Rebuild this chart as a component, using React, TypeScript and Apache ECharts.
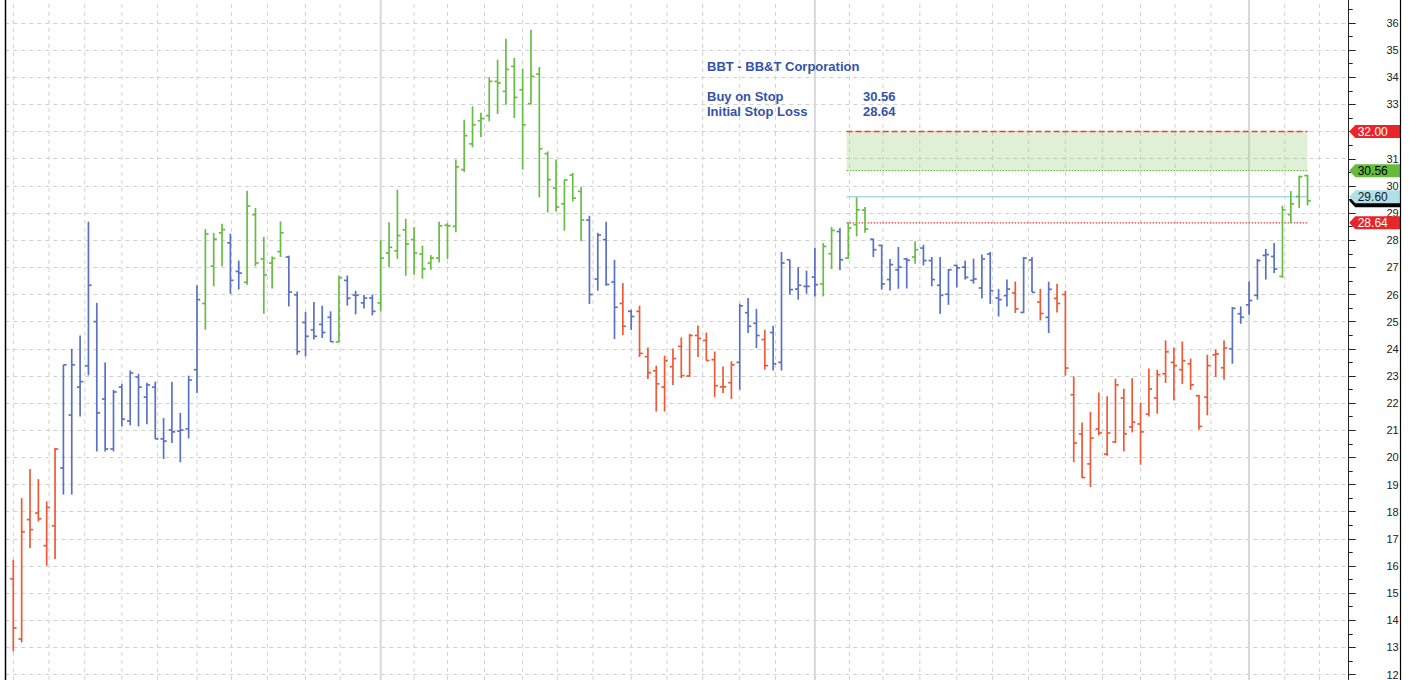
import React, { useEffect, useRef } from "react";
import * as echarts from "echarts";

// Weekly OHLC bars, first week starting 2009-03-02
const FIRST_WEEK_UTC = Date.UTC(2009, 2, 2);

const OPEN = [
  15.53, 13.31, 17.71, 17.95, 16.75, 17.48, 19.61, 21.56, 22.59, 23.37,
  25.0, 22.15, 20.31, 22.59, 21.34, 22.96, 22.22, 22.59, 20.68, 21.01,
  20.97, 21.05, 23.23, 25.67, 27.04, 28.27, 27.9, 26.85, 26.45, 28.94,
  27.31, 27.16, 27.58, 27.38, 25.99, 24.97, 24.7, 24.9, 25.16, 24.25,
  26.52, 25.98, 25.69, 25.87, 25.69, 27.53, 27.61, 28.38, 28.02, 27.49,
  27.16, 27.34, 28.55, 28.51, 30.6, 31.55, 32.4, 32.59, 33.85, 33.48,
  34.4, 33.54, 33.03, 34.12, 31.19, 29.92, 29.34, 30.4, 29.8, 28.74,
  26.57, 28.02, 26.46, 25.67, 25.38, 25.38, 23.71, 23.19, 22.59, 23.34,
  24.09, 23.0, 24.49, 24.31, 23.6, 22.6, 22.75, 23.5, 25.33, 24.94,
  24.34, 24.6, 23.5, 27.28, 26.2, 26.3, 26.64, 26.39, 27.5, 28.32,
  27.34, 28.57, 29.11, 28.04, 27.81, 26.55, 26.91, 27.31, 27.38, 27.71,
  27.25, 26.34, 26.01, 27.07, 27.01, 26.52, 26.24, 27.49, 25.87, 25.96,
  26.06, 25.34, 27.27, 25.72, 25.16, 25.86, 26.0, 22.31, 20.86, 19.76,
  21.05, 20.12, 20.57, 22.19, 21.12, 21.23, 21.6, 22.19, 23.08, 23.5,
  23.23, 23.45, 22.27, 22.22, 23.78, 23.3, 24.0, 25.29, 25.62, 25.97,
  27.44, 27.4, 26.67, 28.94, 29.61, 30.38,
];
const HIGH = [
  16.23, 18.5, 19.57, 19.2, 18.38, 20.35, 23.41, 24.0, 24.49, 28.68,
  25.69, 23.5, 22.49, 22.71, 23.2, 23.08, 22.75, 22.79, 21.45, 22.79,
  21.64, 23.01, 26.34, 28.41, 28.27, 28.61, 28.24, 27.25, 29.82, 29.19,
  28.12, 27.4, 28.69, 27.43, 26.11, 25.36, 25.72, 25.59, 25.38, 26.7,
  26.7, 26.14, 25.99, 26.0, 28.0, 28.66, 29.86, 28.79, 28.49, 27.8,
  27.45, 28.68, 28.63, 30.97, 32.44, 32.93, 32.69, 34.0, 34.65, 35.42,
  34.71, 34.31, 35.75, 34.38, 31.27, 30.97, 30.23, 30.48, 29.96, 28.9,
  28.27, 28.68, 27.28, 26.42, 25.44, 25.59, 24.05, 23.38, 23.75, 24.01,
  24.42, 24.55, 24.86, 24.6, 23.9, 23.35, 23.54, 25.66, 25.87, 25.47,
  24.7, 24.85, 27.57, 27.28, 27.01, 26.88, 27.71, 27.9, 28.49, 28.45,
  28.66, 29.58, 29.22, 28.05, 27.83, 27.31, 27.75, 27.35, 27.96, 27.83,
  27.38, 27.38, 26.94, 27.1, 27.25, 27.32, 27.47, 27.57, 26.2, 26.55,
  26.48, 27.38, 27.38, 26.21, 26.47, 26.4, 26.14, 22.98, 21.29, 21.68,
  22.39, 22.25, 22.9, 22.53, 22.92, 22.02, 23.27, 23.23, 24.31, 24.05,
  24.27, 23.64, 22.31, 23.78, 23.97, 24.31, 25.54, 25.56, 26.48, 27.31,
  27.68, 27.9, 29.27, 29.81, 30.38, 30.41,
];
const LOW = [
  12.86, 13.19, 16.66, 17.64, 16.01, 16.26, 18.63, 18.63, 21.51, 23.02,
  20.22, 20.22, 20.22, 21.14, 21.18, 21.14, 21.22, 20.68, 19.94, 20.53,
  19.82, 20.7, 22.37, 24.7, 26.3, 27.04, 26.03, 26.18, 26.36, 27.04,
  25.29, 26.22, 27.38, 25.56, 23.78, 23.72, 24.34, 24.4, 24.25, 24.25,
  25.59, 25.27, 25.48, 25.23, 25.38, 27.0, 27.31, 26.69, 26.73, 26.58,
  26.91, 27.18, 27.31, 28.29, 30.51, 31.42, 31.8, 32.38, 32.65, 32.99,
  32.5, 30.6, 33.0, 29.58, 29.02, 29.06, 28.35, 29.43, 27.96, 25.65,
  26.14, 26.32, 24.36, 24.51, 24.69, 23.7, 22.89, 21.69, 21.69, 22.67,
  22.92, 22.96, 23.7, 23.56, 22.22, 22.37, 22.15, 22.49, 24.58, 24.03,
  23.23, 23.2, 23.2, 25.99, 25.81, 26.03, 25.93, 25.93, 26.94, 26.89,
  27.31, 28.14, 28.27, 27.38, 26.18, 26.15, 26.21, 26.22, 27.13, 27.07,
  26.3, 25.29, 25.62, 26.26, 26.55, 26.4, 25.85, 25.65, 25.19, 25.56,
  25.32, 25.32, 26.08, 25.05, 24.58, 25.34, 23.01, 19.82, 19.24, 18.91,
  20.81, 20.06, 20.53, 20.22, 20.92, 19.73, 21.51, 21.61, 22.74, 22.1,
  22.7, 22.49, 21.02, 21.55, 22.96, 22.86, 23.45, 24.92, 25.25, 25.81,
  26.55, 26.79, 26.61, 28.63, 29.19, 29.28,
];
const CLOSE = [
  13.72, 17.26, 17.34, 17.74, 18.16, 20.31, 23.41, 23.41, 22.79, 26.34,
  21.64, 20.31, 22.41, 21.41, 23.11, 22.59, 22.67, 20.68, 20.6, 20.94,
  21.01, 22.85, 25.81, 28.23, 28.04, 28.39, 26.52, 26.79, 29.26, 27.16,
  26.72, 27.33, 28.27, 26.09, 23.9, 24.46, 24.46, 24.6, 24.26, 26.62,
  25.86, 25.97, 25.87, 25.38, 27.34, 27.74, 28.17, 27.86, 27.53, 26.94,
  27.34, 28.53, 28.53, 30.7, 31.85, 32.25, 32.48, 33.85, 33.79, 34.29,
  33.26, 32.25, 34.03, 31.37, 30.23, 29.22, 30.22, 29.55, 28.74, 26.0,
  28.19, 26.37, 25.53, 24.83, 25.19, 23.83, 23.12, 22.71, 23.56, 23.64,
  23.01, 24.49, 24.38, 23.57, 22.64, 22.6, 23.41, 25.58, 24.83, 24.49,
  23.38, 23.45, 27.16, 26.18, 26.34, 26.3, 26.36, 27.77, 28.36, 27.28,
  28.45, 29.12, 28.41, 27.65, 26.39, 27.1, 27.01, 27.26, 27.65, 27.25,
  26.55, 25.97, 26.91, 26.98, 26.63, 26.57, 27.31, 26.14, 25.81, 26.2,
  25.47, 27.34, 26.08, 25.3, 26.19, 25.67, 23.29, 20.53, 19.26, 20.71,
  20.9, 20.9, 22.67, 20.87, 21.3, 20.94, 22.52, 23.05, 23.89, 23.38,
  23.56, 22.67, 21.14, 23.38, 23.81, 24.03, 25.49, 25.16, 25.78, 27.25,
  27.47, 26.94, 29.12, 29.34, 30.34, 29.45,
];
// trend state of each bar as runs: r = down, b = neutral, g = up
const TREND_RUNS: [string, number][] = [
  ["r", 6], ["b", 17], ["g", 3], ["b", 2], ["g", 5], ["b", 6], ["g", 1], ["b", 4],
  ["g", 25], ["b", 4], ["r", 1], ["b", 1], ["r", 12], ["b", 3], ["r", 1], ["b", 6],
  ["g", 2], ["b", 1], ["g", 3], ["b", 5], ["g", 1], ["b", 11], ["r", 1], ["b", 2],
  ["r", 1], ["b", 1], ["r", 21], ["b", 6], ["g", 4],
];

const TITLE = "BBT - BB&T Corporation";
const BUY_STOP = 30.56;
const STOP_LOSS = 28.64;
const TARGET = 32.0;
const REFERENCE = 29.6;
const ZONE_FROM_BAR = 99.8;
const ZONE_TO_BAR = 155;

const COLORS: Record<string, string> = { r: "#ec5a36", b: "#5a72c2", g: "#67bd45" };

const X_MIN = -0.958;
const X_MAX = 159.93;

export default function App() {
  const ref = useRef<HTMLDivElement>(null);

  useEffect(() => {
    if (!ref.current) return;
    const chart = echarts.init(ref.current, null, { renderer: "svg" });

    const trend: string[] = [];
    TREND_RUNS.forEach(([k, n]) => {
      for (let i = 0; i < n; i++) trend.push(k);
    });

    const bars = OPEN.map((o, i) => [i, o, HIGH[i], LOW[i], CLOSE[i]]);

    // month start gridlines (first trading day of each month), in bar-index units
    const WEEK = 7 * 86400000;
    const months: number[][] = [];
    let y = 2009;
    let m = 2;
    for (let guard = 0; guard < 60; guard++) {
      let d = new Date(Date.UTC(y, m, 1));
      const isHoliday = (dd: Date) => dd.getUTCMonth() === 0 && dd.getUTCDate() === 1;
      while (d.getUTCDay() === 0 || d.getUTCDay() === 6 || isHoliday(d)) {
        d = new Date(d.getTime() + 86400000);
      }
      const pos = (d.getTime() - FIRST_WEEK_UTC) / WEEK;
      if (pos > X_MAX) break;
      months.push([pos, m === 0 ? 1 : 0, 20]);
      m++;
      if (m > 11) {
        m = 0;
        y++;
      }
    }

    const levels = [
      [ZONE_FROM_BAR, ZONE_TO_BAR, BUY_STOP, TARGET, 0],
      [ZONE_FROM_BAR, ZONE_TO_BAR, TARGET, TARGET, 1],
      [ZONE_FROM_BAR, ZONE_TO_BAR, BUY_STOP, BUY_STOP, 2],
      [ZONE_FROM_BAR, ZONE_TO_BAR, REFERENCE, REFERENCE, 3],
      [ZONE_FROM_BAR, ZONE_TO_BAR, STOP_LOSS, STOP_LOSS, 4],
    ];

    const lastClose = CLOSE[CLOSE.length - 1];
    const flagDefs = [
      { v: TARGET, bg: "#e8262a", fg: "#ffffff", label: true },
      { v: BUY_STOP, bg: "#66bb3c", fg: "#000000", label: true },
      { v: lastClose, bg: "#000000", fg: "#ffffff", label: false },
      { v: REFERENCE, bg: "#b2e0e8", fg: "#1a1a1a", label: true },
      { v: STOP_LOSS, bg: "#e8262a", fg: "#ffffff", label: true },
    ];
    const flags = flagDefs.map((f, i) => [ZONE_TO_BAR, f.v, i]);

    const textColor = "#3553a8";
    const font = "Liberation Sans, Arial, sans-serif";

    const option: any = {
      animation: false,
      backgroundColor: "#ffffff",
      grid: { left: 5.3, top: 5.85, width: 1343.4, height: 705.9, containLabel: false },
      xAxis: {
        type: "value",
        min: X_MIN,
        max: X_MAX,
        show: false,
        splitLine: { show: false },
      },
      yAxis: {
        type: "value",
        position: "right",
        min: 11,
        max: 37,
        interval: 1,
        axisLine: { show: true, onZero: false, lineStyle: { color: "#222", width: 1 } },
        axisTick: { show: true, length: 7, lineStyle: { color: "#222" } },
        minorTick: { show: true, splitNumber: 2, length: 4, lineStyle: { color: "#222" } },
        splitLine: { show: true, lineStyle: { color: "#d0d0d0", type: [4, 4], width: 1 } },
        axisLabel: {
          show: true,
          color: "#222",
          fontSize: 11,
          fontFamily: font,
          align: "right",
          margin: 50,
          showMaxLabel: false,
          showMinLabel: false,
        },
      },
      graphic: [
        { type: "line", shape: { x1: 5.5, y1: 0, x2: 5.5, y2: 730 }, style: { stroke: "#000", lineWidth: 1.5 }, z: 100 },
        { type: "line", shape: { x1: 1400.5, y1: 0, x2: 1400.5, y2: 730 }, style: { stroke: "#000", lineWidth: 1.2 }, z: 100 },
        { type: "text", x: 707, y: 76, style: { text: TITLE, fill: textColor, font: `bold 13px ${font}`, verticalAlign: "middle" }, z: 100 },
        { type: "text", x: 707, y: 106, style: { text: "Buy on Stop", fill: textColor, font: `bold 13px ${font}`, verticalAlign: "middle" }, z: 100 },
        { type: "text", x: 707, y: 121.5, style: { text: "Initial Stop Loss", fill: textColor, font: `bold 13px ${font}`, verticalAlign: "middle" }, z: 100 },
        { type: "text", x: 863, y: 106, style: { text: BUY_STOP.toFixed(2), fill: textColor, font: `bold 13px ${font}`, verticalAlign: "middle" }, z: 100 },
        { type: "text", x: 863, y: 121.5, style: { text: STOP_LOSS.toFixed(2), fill: textColor, font: `bold 13px ${font}`, verticalAlign: "middle" }, z: 100 },
      ],
      series: [
        {
          type: "custom",
          name: "months",
          silent: true,
          z: 1,
          data: months,
          encode: { x: 0, y: 2 },
          renderItem: (params: any, api: any) => {
            const cs = params.coordSys;
            const x = api.coord([api.value(0), 20])[0];
            const isYear = api.value(1) === 1;
            return {
              type: "line",
              shape: { x1: x, y1: cs.y, x2: x, y2: cs.y + cs.height },
              style: isYear
                ? { stroke: "#d8d8d8", lineWidth: 2 }
                : { stroke: "#d0d0d0", lineWidth: 1, lineDash: [4, 4] },
            };
          },
        },
        {
          type: "custom",
          name: "levels",
          silent: true,
          z: 2,
          data: levels,
          encode: { x: [0, 1], y: [2, 3] },
          renderItem: (params: any, api: any) => {
            const kind = api.value(4);
            const p0 = api.coord([api.value(0), api.value(3)]);
            const p1 = api.coord([api.value(1), api.value(2)]);
            if (kind === 0) {
              return {
                type: "rect",
                shape: { x: p0[0], y: p0[1], width: p1[0] - p0[0], height: p1[1] - p0[1] },
                style: { fill: "rgba(150,205,120,0.30)" },
              };
            }
            const styles: Record<number, any> = {
              1: { stroke: "#f03a3a", lineWidth: 1.5, lineDash: [6, 3] },
              2: { stroke: "#6abf45", lineWidth: 1.3, lineDash: [1.5, 1.5] },
              3: { stroke: "#a6d9e3", lineWidth: 1.4 },
              4: { stroke: "#e43c3c", lineWidth: 1.3, lineDash: [1.5, 1.5] },
            };
            return {
              type: "line",
              z2: kind === 1 ? 5 : 1,
              shape: { x1: p0[0], y1: p0[1], x2: p1[0], y2: p0[1] },
              style: styles[kind],
            };
          },
        },
        {
          type: "custom",
          name: "BBT",
          z: 3,
          data: bars,
          encode: { x: 0, y: [1, 2, 3, 4] },
          renderItem: (params: any, api: any) => {
            const i = api.value(0);
            const o = api.coord([i, api.value(1)]);
            const h = api.coord([i, api.value(2)]);
            const l = api.coord([i, api.value(3)]);
            const c = api.coord([i, api.value(4)]);
            const color = COLORS[trend[i]];
            const x = o[0];
            const st = { stroke: color, lineWidth: 1.7 };
            return {
              type: "group",
              children: [
                { type: "line", shape: { x1: x, y1: h[1], x2: x, y2: l[1] }, style: st },
                { type: "line", shape: { x1: x - 3.2, y1: o[1], x2: x, y2: o[1] }, style: st },
                { type: "line", shape: { x1: x, y1: c[1], x2: x + 3.2, y2: c[1] }, style: st },
              ],
            };
          },
        },
        {
          type: "custom",
          name: "flags",
          silent: true,
          clip: false,
          z: 10,
          data: flags,
          encode: { x: 0, y: 1 },
          renderItem: (params: any, api: any) => {
            const cs = params.coordSys;
            const f = flagDefs[api.value(2)];
            const yc = api.coord([api.value(0), api.value(1)])[1];
            const ax = cs.x + cs.width;
            const right = ax + 51.5;
            const children: any[] = [
              {
                type: "polygon",
                shape: {
                  points: [
                    [ax + 0.5, yc],
                    [ax + 6.5, yc - 6.5],
                    [right, yc - 6.5],
                    [right, yc + 6.5],
                    [ax + 6.5, yc + 6.5],
                  ],
                },
                style: { fill: f.bg },
              },
            ];
            if (f.label) {
              children.push({
                type: "text",
                x: ax + 9,
                y: yc + 0.5,
                style: {
                  text: f.v.toFixed(2),
                  fill: f.fg,
                  font: `12px ${font}`,
                  verticalAlign: "middle",
                  align: "left",
                },
              });
            }
            return { type: "group", children };
          },
        },
      ],
    };

    chart.setOption(option);
    return () => chart.dispose();
  }, []);

  return (
    <div
      style={{
        position: "fixed",
        left: 0,
        top: 0,
        width: 1409,
        height: 680,
        overflow: "hidden",
        background: "#ffffff",
      }}
    >
      <div ref={ref} style={{ position: "absolute", left: 0, top: -10, width: 1409, height: 730 }} />
    </div>
  );
}
